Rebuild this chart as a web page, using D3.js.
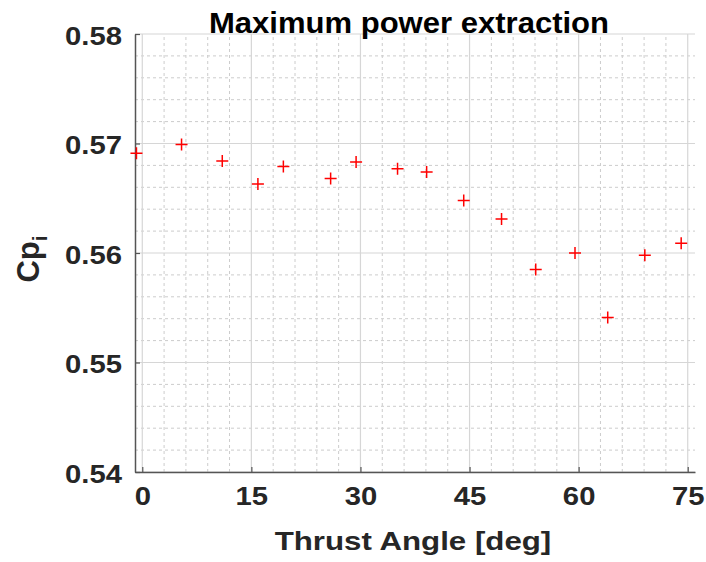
<!DOCTYPE html>
<html>
<head>
<meta charset="utf-8">
<script src="https://cdn.jsdelivr.net/npm/d3@7"></script>
<style>
  body { margin: 0; background: #fff; }
  text { font-family: "Liberation Sans", Arial, sans-serif; font-weight: bold; }
</style>
</head>
<body>
<svg id="chart" width="706" height="562"></svg>
<script>
// thrust angle [deg] vs Cp_i
const thrustAngle = [-0.8, 5.4, 11.0, 15.9, 19.4, 25.9, 29.4, 35.1, 39.1, 44.2, 49.4, 54.1, 59.5, 64.0, 69.1, 74.1];
const cpValues = [0.5691, 0.5699, 0.5684, 0.5663, 0.5679, 0.5668, 0.5683, 0.5677, 0.5674, 0.5648, 0.5631, 0.5585, 0.5600, 0.5541, 0.5598, 0.5609];

const xTicks = [0, 15, 30, 45, 60, 75];
const yTicks = [0.54, 0.55, 0.56, 0.57, 0.58];
const xDomain = [-1, 76];
const yDomain = [0.54, 0.58];

const titleText = 'Maximum power extraction';
const xLabelText = 'Thrust Angle [deg]';

class ScatterChart {
  constructor({ width, height, margin }, rootNode) {
    this._width = width;
    this._height = height;
    this._margin = margin;
    this._root = rootNode;
    this._scaleX = null;
    this._scaleY = null;
  }

  render() {
    this._root.selectChildren().remove();
    this.scaleInit();
    this.renderGrid();
    this.renderAxes();
    this.renderLabels();
    this.renderPoints();
    return this;
  }

  scaleInit() {
    const { left, right, top, bottom } = this._margin;
    this._scaleX = d3.scaleLinear(xDomain, [left, this._width - right]);
    this._scaleY = d3.scaleLinear(yDomain, [this._height - bottom, top]);
  }

  renderGrid() {
    const x = this._scaleX, y = this._scaleY;
    const [x0, x1] = x.range(), [y0, y1] = y.range();
    const g = this._root.append('g');

    const xMinor = d3.range(0, xDomain[1] + 0.01, 3).filter(v => v % 15 !== 0);
    const yMinor = d3.range(0, 21).map(i => yDomain[0] + i * 0.002)
      .filter(v => yTicks.every(t => Math.abs(t - v) > 1e-6));

    g.selectAll('.xminor').data(xMinor).join('line')
      .attr('x1', d => x(d)).attr('x2', d => x(d)).attr('y1', y0).attr('y2', y1)
      .attr('stroke', '#cccccc').attr('stroke-width', 1).attr('stroke-dasharray', '3,3');
    g.selectAll('.yminor').data(yMinor).join('line')
      .attr('x1', x0).attr('x2', x1).attr('y1', d => y(d)).attr('y2', d => y(d))
      .attr('stroke', '#cccccc').attr('stroke-width', 1).attr('stroke-dasharray', '3,3');

    g.selectAll('.xmajor').data(xTicks).join('line')
      .attr('x1', d => x(d)).attr('x2', d => x(d)).attr('y1', y0).attr('y2', y1)
      .attr('stroke', '#d6d6d6').attr('stroke-width', 1.2);
    g.selectAll('.ymajor').data(yTicks).join('line')
      .attr('x1', x0).attr('x2', x1).attr('y1', d => y(d)).attr('y2', d => y(d))
      .attr('stroke', '#d6d6d6').attr('stroke-width', 1.2);
  }

  renderAxes() {
    const x = this._scaleX, y = this._scaleY;
    const yBottom = y.range()[0];

    const xAxis = this._root.append('g')
      .attr('transform', `translate(0,${yBottom})`)
      .call(d3.axisBottom(x).tickValues(xTicks).tickSizeInner(-5).tickSizeOuter(0).tickPadding(14));
    const yAxis = this._root.append('g')
      .attr('transform', `translate(${x.range()[0]},0)`)
      .call(d3.axisLeft(y).tickValues(yTicks).tickFormat(d3.format('.2f')).tickSizeInner(-5).tickSizeOuter(0).tickPadding(13));

    [xAxis, yAxis].forEach(a => {
      a.select('.domain').attr('stroke', '#555').attr('stroke-width', 1.5);
      a.selectAll('.tick line').attr('stroke', '#555').attr('stroke-width', 1.2);
      a.selectAll('.tick text').attr('fill', '#262626').attr('font-size', 25)
        .attr('font-family', '"Liberation Sans", Arial, sans-serif').attr('font-weight', 'bold');
    });
    xAxis.selectAll('.tick text').attr('dy', '0.75em');
    yAxis.selectAll('.tick text').attr('dy', '0.40em');

    stretch(xAxis.selectAll('.tick text'), 1.17);
    stretch(yAxis.selectAll('.tick text'), 1.17);
  }

  renderLabels() {
    const x = this._scaleX, y = this._scaleY;
    const cx = (x.range()[0] + x.range()[1]) / 2;
    const cy = (y.range()[0] + y.range()[1]) / 2;

    const title = this._root.append('text')
      .attr('x', cx - 6).attr('y', 33)
      .attr('text-anchor', 'middle').attr('font-size', 29).attr('fill', '#000')
      .text(titleText);
    stretch(title, 1.07);

    const xl = this._root.append('text')
      .attr('x', cx - 2).attr('y', 550)
      .attr('text-anchor', 'middle').attr('font-size', 25).attr('fill', '#262626')
      .text(xLabelText);
    stretch(xl, 1.25);

    const yl = this._root.append('text')
      .attr('transform', `translate(39,${cy + 6}) rotate(-90)`)
      .attr('text-anchor', 'middle').attr('font-size', 31).attr('fill', '#262626');
    yl.append('tspan').text('Cp');
    yl.append('tspan').attr('font-size', 21).attr('dy', 8).text('i');
  }

  renderPoints() {
    const x = this._scaleX, y = this._scaleY;
    const s = 6;
    const pts = thrustAngle.map((a, i) => ({ x: a, y: cpValues[i] }));
    this._root.append('g')
      .selectAll('.scatter-point')
      .data(pts)
      .join('path')
        .attr('class', 'scatter-point')
        .attr('d', d => {
          const px = x(d.x), py = y(d.y);
          return `M${px - s},${py}H${px + s}M${px},${py - s}V${py + s}`;
        })
        .attr('stroke', '#ff0000')
        .attr('stroke-width', 1.5)
        .attr('fill', 'none');
  }
}

// horizontal stretch of the text, the figure is wider than the font
function stretch(selection, k) {
  selection.each(function () {
    const w = this.getComputedTextLength();
    d3.select(this).attr('textLength', w * k).attr('lengthAdjust', 'spacingAndGlyphs');
  });
}

new ScatterChart({
  width: 706,
  height: 562,
  margin: { top: 34, bottom: 90, left: 135, right: 11 }
}, d3.select('#chart')).render();
</script>
</body>
</html>
